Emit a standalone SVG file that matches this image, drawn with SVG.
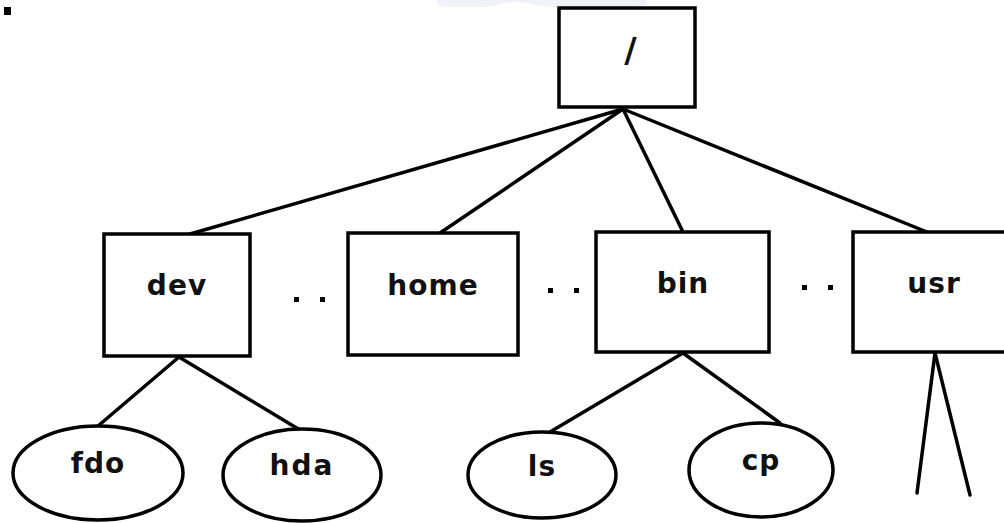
<svg xmlns="http://www.w3.org/2000/svg" width="1004" height="523" viewBox="0 0 1004 523">
  <style>
    .box { fill: #ffffff; stroke: #000000; stroke-width: 3.5; }
    .leaf { fill: #ffffff; stroke: #000000; stroke-width: 3.5; }
    .edge { stroke: #000000; stroke-width: 3.5; fill: none; stroke-linecap: round; }
    .lbl { font-family: "DejaVu Sans", Verdana, sans-serif; font-size: 28px; font-weight: 600; fill: #111111; text-anchor: middle; letter-spacing: 1px; }
    .slash { font-size: 34px; }
    .dot { fill: #000000; }
  </style>

  <rect width="1004" height="523" fill="#ffffff"/>

  <!-- faint band along the top edge -->
  <path d="M437 0 H647 V4 Q640 7 625 7 H555 Q540 7 530 3 Q515 1 503 3 Q495 7 480 7 H450 Q440 7 437 4 Z" fill="#f0f2f8"/>

  <!-- small mark in the corner -->
  <rect x="4" y="7" width="7" height="8" fill="#000000"/>

  <!-- connectors -->
  <g id="connectors">
    <line class="edge" x1="623" y1="109" x2="190" y2="234"/>
    <line class="edge" x1="623" y1="109" x2="440" y2="233"/>
    <line class="edge" x1="623" y1="109" x2="683" y2="232"/>
    <line class="edge" x1="623" y1="109" x2="927" y2="232"/>
    <line class="edge" x1="179" y1="357" x2="98" y2="426"/>
    <line class="edge" x1="179" y1="357" x2="300" y2="430"/>
    <line class="edge" x1="683" y1="353" x2="550" y2="432"/>
    <line class="edge" x1="683" y1="353" x2="780" y2="423"/>
    <line class="edge" x1="935" y1="353" x2="917" y2="493"/>
    <line class="edge" x1="935" y1="353" x2="970" y2="495"/>
  </g>

  <g id="root">
    <rect class="box" x="559" y="8" width="136" height="99"/>
    <text class="lbl slash" x="631" y="62">/</text>
  </g>

  <g id="dev">
    <rect class="box" x="104" y="234" width="146" height="122"/>
    <text class="lbl" x="177" y="295">dev</text>
  </g>

  <g id="home">
    <rect class="box" x="348" y="233" width="170" height="122"/>
    <text class="lbl" x="433" y="295">home</text>
  </g>

  <g id="bin">
    <rect class="box" x="596" y="232" width="173" height="120"/>
    <text class="lbl" x="683" y="293">bin</text>
  </g>

  <g id="usr">
    <rect class="box" x="853" y="232" width="160" height="120"/>
    <text class="lbl" x="934" y="293">usr</text>
  </g>

  <!-- ellipsis marks between siblings -->
  <g id="gaps">
    <rect class="dot" x="294" y="297" width="5" height="5"/>
    <rect class="dot" x="320" y="297" width="5" height="5"/>
    <rect class="dot" x="548" y="288" width="5" height="5"/>
    <rect class="dot" x="574" y="288" width="5" height="5"/>
    <rect class="dot" x="802" y="285" width="5" height="5"/>
    <rect class="dot" x="828" y="285" width="5" height="5"/>
  </g>

  <g id="fdo">
    <ellipse class="leaf" cx="98" cy="473" rx="85" ry="47"/>
    <text class="lbl" x="98" y="473">fdo</text>
  </g>

  <g id="hda">
    <ellipse class="leaf" cx="302" cy="475" rx="79" ry="46"/>
    <text class="lbl" x="302" y="475" style="letter-spacing:2px">hda</text>
  </g>

  <g id="ls">
    <ellipse class="leaf" cx="542" cy="475" rx="74" ry="43"/>
    <text class="lbl" x="542" y="476">ls</text>
  </g>

  <g id="cp">
    <ellipse class="leaf" cx="761" cy="470" rx="72" ry="47"/>
    <text class="lbl" x="761" y="470">cp</text>
  </g>
</svg>
